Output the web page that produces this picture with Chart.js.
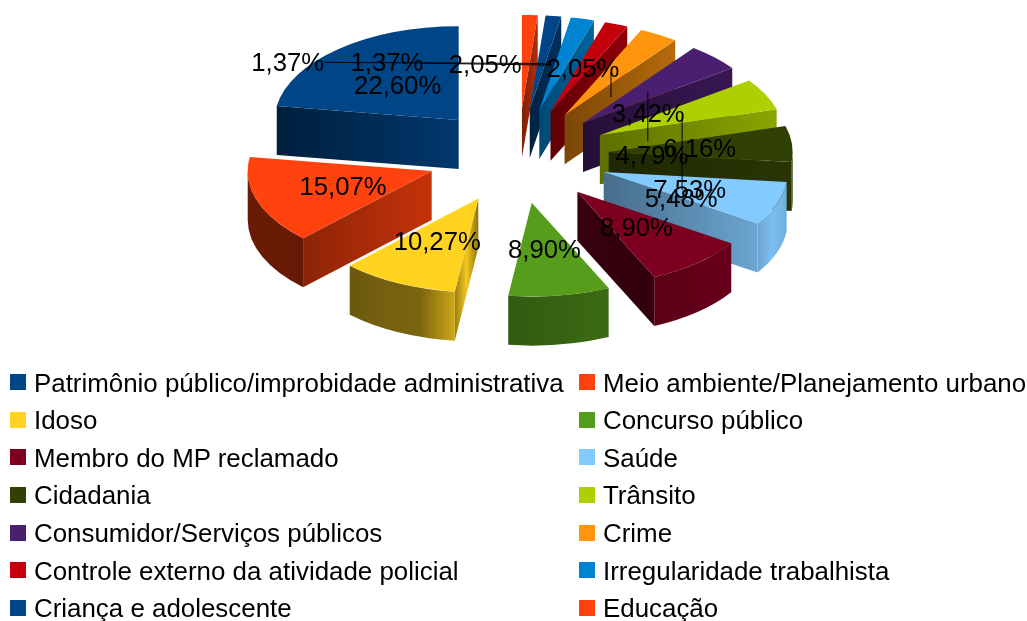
<!DOCTYPE html>
<html>
<head>
<meta charset="utf-8">
<script src="https://cdn.jsdelivr.net/npm/chart.js@4/dist/chart.umd.min.js"></script>
<style>
  html, body { margin: 0; padding: 0; background: #fff; }
  #wrap { position: relative; width: 1027px; height: 621px; overflow: hidden; }
  canvas { position: absolute; left: 0; top: 0; }
  #legend { position: absolute; left: 0; top: 0; font: 25.9px "Liberation Sans", sans-serif; color: #000; }
  .item { position: absolute; white-space: nowrap; line-height: 30px; }
  .item i { position: absolute; left: -24px; top: 6.5px; width: 16px; height: 16px; }
</style>
</head>
<body>
<div id="wrap">
  <canvas id="pie" width="1027" height="621"></canvas>
  <div id="legend"></div>
</div>
<script>
const categories = [
  'Patrimônio público/improbidade administrativa', 'Meio ambiente/Planejamento urbano',
  'Idoso', 'Concurso público',
  'Membro do MP reclamado', 'Saúde',
  'Cidadania', 'Trânsito',
  'Consumidor/Serviços públicos', 'Crime',
  'Controle externo da atividade policial', 'Irregularidade trabalhista',
  'Criança e adolescente', 'Educação'
];
const shares = [22.60, 15.07, 10.27, 8.90, 8.90, 7.53, 6.16, 5.48, 4.79, 3.42, 2.05, 2.05, 1.37, 1.37];
const colors = [
  '#004586', '#ff420e', '#ffd320', '#579d1c', '#7e0021', '#83caff', '#314004',
  '#aecf00', '#4b1f6f', '#ff950e', '#c5000b', '#0084d1', '#004586', '#ff420e'
];

// look of the fake 3d
const TILT = 0.51, DEPTH = 49, EXPLODE = 91, EXPLODE_TILT = 0.52, RADIUS = 184;

// brightness of the radial wall and the outer wall, left to right
const sideShade = [
  [.45, .82], [.55, .78], [.6, .95, .55], null, [.45, .4], [.54, .82], [.62, .85],
  [.54, .8], [.5, .75], [.48, .72], [.48, .73], [.56, .76], [.5, .7], [.5, .7]
];
const outerShade = [
  null, [.42, .4], [.42, .46, .48, .8], [.58, .68], [.72, .84], [.82, .95, .86], [.9, .9],
  null, null, null, null, null, null, null
];

// label place relative to the slice anchor
const labelNudge = [
  [11, 9], [16, -1], [7, -6], [-4, -7], [-13, -5], [-18, 0], [-19, 3],
  [-18, 89], [-10, 73], [27, 47], [-7, 10], [-80, 10], [-157, 10], [-239, 11]
];
// leader lines: slice, from, to (relative to the anchor too)
const leaders = [
  [13, -202, 8, -5, 9], [12, -122, 8, 8, 10], [11, -44, 6, -13, 7],
  [10, 21, 11, 21, 36], [8, -14, 6, -14, 56], [7, -17, 5, -17, 78]
];

function shade(hex, m) {
  let n = parseInt(hex.slice(1), 16);
  return `rgb(${(n >> 16) * m | 0},${((n >> 8) & 255) * m | 0},${(n & 255) * m | 0})`;
}

function wallGradient(ctx, x1, x2, hex, stops) {
  let g = ctx.createLinearGradient(x1, 0, x2, 0);
  stops.forEach((m, i) => g.addColorStop(i / (stops.length - 1), shade(hex, m)));
  return g;
}

class Pie3D extends Chart.DoughnutController {
  draw() {
    let ctx = this.chart.ctx;
    let arcs = this.getMeta().data;
    let order = arcs.map((a, i) => i).sort((a, b) => {
      return Math.sin((arcs[a].startAngle + arcs[a].endAngle) / 2) - Math.sin((arcs[b].startAngle + arcs[b].endAngle) / 2);
    });

    order.forEach(i => {
      let arc = arcs[i];
      let s = categories.length - 1 - i;
      let mid = (arc.startAngle + arc.endAngle) / 2;
      let x = arc.x + EXPLODE * Math.cos(mid);
      let y = arc.y + EXPLODE * EXPLODE_TILT * Math.sin(mid);
      let r = arc.outerRadius;
      let ry = r * TILT;

      // radial wall that faces us
      [[arc.startAngle, -1], [arc.endAngle, 1]].forEach(([a, side]) => {
        if (Math.sin(a + side * Math.PI / 2) <= 0 || !sideShade[s]) return;
        let ex = x + r * Math.cos(a), ey = y + ry * Math.sin(a);
        ctx.beginPath();
        ctx.moveTo(x, y);
        ctx.lineTo(ex, ey);
        ctx.lineTo(ex, ey + DEPTH);
        ctx.lineTo(x, y + DEPTH);
        ctx.closePath();
        ctx.fillStyle = wallGradient(ctx, Math.min(x, ex), Math.max(x, ex), colors[s], sideShade[s]);
        ctx.fill();
      });

      // outer wall, only the front half of the ellipse shows
      let a1 = Math.max(arc.startAngle, 0), a2 = Math.min(arc.endAngle, Math.PI);
      if (a2 > a1 && outerShade[s]) {
        ctx.beginPath();
        ctx.ellipse(x, y, r, ry, 0, a1, a2);
        ctx.ellipse(x, y + DEPTH, r, ry, 0, a2, a1, true);
        ctx.closePath();
        let x1 = x + r * Math.cos(a2), x2 = x + r * Math.cos(a1);
        if (a1 <= 0) x2 = x + r;
        ctx.fillStyle = wallGradient(ctx, x1, x2, colors[s], outerShade[s]);
        ctx.fill();
      }

      // top face is the library's own arc, squashed and moved out
      ctx.save();
      ctx.translate(x, y);
      ctx.scale(1, TILT);
      ctx.translate(-arc.x, -arc.y);
      arc.draw(ctx);
      ctx.restore();
    });
  }
}
Pie3D.id = 'pie3d';
Pie3D.defaults = Chart.DoughnutController.defaults;
Pie3D.overrides = Chart.DoughnutController.overrides;
Chart.register(Pie3D);

function anchorOf(arc) {
  let mid = (arc.startAngle + arc.endAngle) / 2;
  let d = EXPLODE + 0.6 * arc.outerRadius;
  return [arc.x + d * Math.cos(mid), arc.y + d * TILT * Math.sin(mid)];
}

const pieLabels = {
  id: 'pieLabels',
  afterDatasetsDraw(chart) {
    let ctx = chart.ctx;
    let arcs = chart.getDatasetMeta(0).data;
    ctx.save();
    ctx.strokeStyle = '#000';
    ctx.lineWidth = 1;
    leaders.forEach(([s, x1, y1, x2, y2]) => {
      let p = anchorOf(arcs[categories.length - 1 - s]);
      ctx.beginPath();
      ctx.moveTo(p[0] + x1, p[1] + y1 + 1);
      ctx.lineTo(p[0] + x2, p[1] + y2 + 1);
      ctx.stroke();
    });
    ctx.fillStyle = '#000';
    ctx.font = '25.7px "Liberation Sans", sans-serif';
    ctx.textAlign = 'center';
    ctx.textBaseline = 'middle';
    shares.forEach((v, s) => {
      let p = anchorOf(arcs[categories.length - 1 - s]);
      let txt = v.toFixed(2).replace('.', ',') + '%';
      ctx.fillText(txt, p[0] + labelNudge[s][0], p[1] + labelNudge[s][1]);
    });
    ctx.restore();
  }
};

new Chart(document.getElementById('pie'), {
  type: 'pie3d',
  plugins: [pieLabels],
  data: {
    labels: categories.slice().reverse(),
    datasets: [{
      data: shares.slice().reverse(),
      backgroundColor: colors.slice().reverse(),
      borderWidth: 0,
      clip: false
    }]
  },
  options: {
    responsive: false,
    maintainAspectRatio: false,
    animation: false,
    cutout: 0,
    radius: RADIUS,
    rotation: 0,
    layout: { padding: { left: 9, bottom: 309 } },
    plugins: { legend: { display: false }, tooltip: { enabled: false } }
  }
});

// legend in two columns, same order as the series
let legend = document.getElementById('legend');
categories.forEach((name, i) => {
  let item = document.createElement('div');
  item.className = 'item';
  item.style.left = (i % 2 ? 603 : 34) + 'px';
  item.style.top = (367.8 + 37.55 * Math.floor(i / 2)) + 'px';
  item.innerHTML = `<i style="background:${colors[i]}"></i>${name}`;
  legend.appendChild(item);
});
</script>
</body>
</html>
